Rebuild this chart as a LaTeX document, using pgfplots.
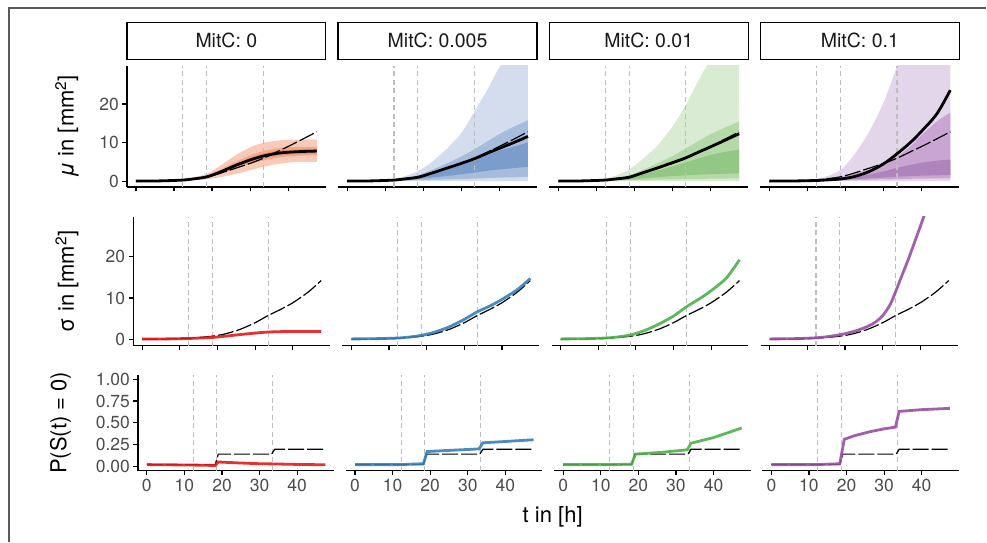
\documentclass[border=0pt]{standalone}
\usepackage{pgfplots}
\pgfplotsset{compat=1.18}
\usepackage{pgfplotstable}
\usepgfplotslibrary{fillbetween}
\usepackage{fontspec}
\setmainfont{TeX Gyre Heros}

\definecolor{redL}{HTML}{F9CAB7}
\definecolor{redM}{HTML}{F3A78D}
\definecolor{redD}{HTML}{EC8B70}
\definecolor{blueL}{HTML}{D3DDED}
\definecolor{blueM}{HTML}{A5BCDD}
\definecolor{blueD}{HTML}{7A9DCB}
\definecolor{greenL}{HTML}{DAEBD4}
\definecolor{greenM}{HTML}{B3D9A6}
\definecolor{greenD}{HTML}{92C785}
\definecolor{purpleL}{HTML}{E4D6EA}
\definecolor{purpleM}{HTML}{C9A6D2}
\definecolor{purpleD}{HTML}{AF83BB}
\definecolor{cred}{HTML}{E41A1C}
\definecolor{cblue}{HTML}{377EB8}
\definecolor{cgreen}{HTML}{4DAF4A}
\definecolor{cpurple}{HTML}{984EA3}
\definecolor{vgray}{HTML}{BEBEBE}

\newcommand\ticksize{\fontsize{17.5}{20}\selectfont}
\newcommand\stripsize{\fontsize{19.5}{22}\selectfont}
\newcommand\titlesize{\fontsize{22}{25}\selectfont}

% mu bands: t mean lo1 hi1 lo2 hi2 lo3 hi3
\pgfplotstableread{
t     mean lo1 hi1  lo2  hi2  lo3  hi3
0     0    0   0.05 0    0.03 0    0.02
6     0.05 0   0.12 0.02 0.08 0.03 0.06
12    0.25 0.1 0.45 0.18 0.33 0.21 0.29
15    0.55 0.25 0.95 0.42 0.72 0.48 0.62
18.6  1.1  0.5 1.9  0.85 1.4  0.98 1.22
22    2.3  1.0 3.9  1.8  2.9  2.0  2.6
26    4.0  1.8 6.6  3.2  4.9  3.6  4.4
30    5.5  2.8 8.8  4.5  6.7  5.0  6.0
33.4  6.5  3.7 9.9  5.4  7.8  5.9  7.1
37    7.2  4.4 10.5 6.0  8.5  6.6  7.8
40    7.5  4.8 10.7 6.4  8.8  6.9  8.1
44    7.7  5.0 10.8 6.6  8.9  7.1  8.3
47.5  7.8  5.0 10.8 6.7  8.9  7.2  8.4
}\mured
\pgfplotstableread{
t     mean lo1 hi1  lo2  hi2  lo3  hi3
0     0    0   0.05 0    0.03 0.01 0.02
6     0.05 0   0.12 0.02 0.08 0.03 0.05
12    0.25 0   0.5  0.1  0.35 0.15 0.25
15    0.55 0   1.2  0.15 0.8  0.3  0.55
18.6  1.0  0   2.6  0.25 1.5  0.5  1.0
22    2.0  0   4.8  0.35 2.8  0.9  1.9
26    3.3  0   8.2  0.45 4.5  1.3  3.0
30    4.6  0   12.5 0.55 6.4  1.8  4.2
33.4  5.8  0   18.0 0.65 8.2  2.2  5.4
37    7.3  0   24.0 0.8  10.4 2.7  6.8
40    8.5  0   29.6 0.9  12.2 3.0  7.9
44    10.1 0   36   1.0  14.2 3.4  9.0
47.5  11.6 0   42   1.1  15.8 3.7  10.0
}\mublue
\pgfplotstableread{
t     mean lo1 hi1  lo2  hi2  lo3  hi3
0     0    0   0.05 0    0.03 0.01 0.02
6     0.05 0   0.12 0.02 0.08 0.03 0.05
12    0.25 0   0.6  0.08 0.35 0.12 0.22
15    0.55 0   1.4  0.12 0.8  0.25 0.5
18.6  1.0  0   3.0  0.2  1.5  0.4  0.9
22    2.1  0   5.6  0.3  2.8  0.7  1.7
26    3.4  0   9.2  0.38 4.6  1.0  2.7
30    4.8  0   14.2 0.45 6.5  1.3  3.8
33.4  6.0  0   19.6 0.5  8.4  1.5  4.8
37    7.6  0   26.5 0.58 10.5 1.7  5.9
40    8.9  0   31.5 0.62 12.2 1.8  6.8
44    10.7 0   38   0.67 14.0 1.9  7.6
47.5  12.3 0   44   0.7  15.4 2.0  8.2
}\mugreen
\pgfplotstableread{
t     mean lo1 hi1  lo2  hi2  lo3  hi3
0     0    0   0.05 0    0.03 0.01 0.02
6     0.03 0   0.12 0.02 0.07 0.03 0.05
12    0.15 0   0.5  0.05 0.3  0.1  0.2
15    0.3  0   1.2  0.1  0.6  0.2  0.4
18.6  0.55 0   2.9  0.15 1.0  0.3  0.7
22    1.1  0   6.5  0.25 1.8  0.5  1.1
26    2.4  0   12.5 0.35 3.0  0.7  1.7
30    4.5  0   20.5 0.45 4.6  0.9  2.5
33.4  7.0  0   29.6 0.5  6.3  1.1  3.4
37    10.0 0   40   0.6  9.0  1.3  4.2
40    13.0 0   50   0.65 12.0 1.4  4.8
44    17.5 0   65   0.7  15.5 1.5  5.3
47.5  23.6 0   80   0.7  17.8 1.6  5.6
}\mupurple

\pgfplotsset{
  panel/.style={scale only axis, set layers,
    xmin=-2.375, xmax=49.875,
    axis x line*=bottom, tick pos=left,
    axis line style={-, line width=1.4pt},
    every outer x axis line/.append style={-}, every outer y axis line/.append style={-},
    xtick={0,10,20,30,40},
    tick align=outside, major tick length=4.5pt,
    every tick/.style={black, line width=1.2pt},
    tick label style={font=\ticksize, text=black!70},
    /pgf/number format/assume math mode=true},
  noy/.style={axis y line=none, ytick=\empty},
  withy/.style={axis y line*=left},
  row1/.style={panel, width=199pt, height=121pt, ymin=-1.5, ymax=29.9, ytick={0,10,20},
    xticklabels={},
    title style={at={(0.5,1)}, anchor=south, yshift=0pt, draw=black, fill=white,
      line width=1.3pt, minimum width=199pt, minimum height=37pt, inner sep=0pt,
      font=\stripsize, text=black!90}},
  row2/.style={panel, width=197pt, height=129pt, ymin=-1.45, ymax=29.5, ytick={0,10,20},
    xticklabels={}},
  row3/.style={panel, width=196.5pt, height=96pt, ymin=-0.05, ymax=1.05,
    ytick={0,0.25,0.5,0.75,1}, yticklabels={0.00,0.25,0.50,0.75,1.00},
    xticklabels={0,10,20,30,40}},
  vl/.style={color=vgray, line width=1.1pt, dash pattern=on 5pt off 3.5pt, forget plot},
  ref/.style={black, line width=1.2pt, dash pattern=on 16pt off 3pt},
  mline/.style={black, line width=2.8pt, smooth},
  cline/.style={line width=2.8pt, opacity=0.9},
}

% dashed guide lines, #1 and #2: bottom and top of the panel
\newcommand\vlines[2]{%
  \addplot[vl] coordinates {(12.3,#1) (12.3,#2)};
  \addplot[vl] coordinates {(18.6,#1) (18.6,#2)};
  \addplot[vl] coordinates {(33.5,#1) (33.5,#2)};}

\newcommand\mubands[4]{%
  \addplot[draw=none, name path=h1, smooth] table[x=t,y=hi1]{#1};
  \addplot[draw=none, name path=l1, smooth] table[x=t,y=lo1]{#1};
  \addplot[draw=none, name path=h2, smooth] table[x=t,y=hi2]{#1};
  \addplot[draw=none, name path=l2, smooth] table[x=t,y=lo2]{#1};
  \addplot[draw=none, name path=h3, smooth] table[x=t,y=hi3]{#1};
  \addplot[draw=none, name path=l3, smooth] table[x=t,y=lo3]{#1};
  \addplot[fill=#2, draw=none] fill between[of=h1 and l1];
  \addplot[fill=#3, draw=none] fill between[of=h2 and l2];
  \addplot[fill=#4, draw=none] fill between[of=h3 and l3];}

\newcommand\muref{%
  \addplot[ref, smooth] coordinates {(0,0) (6,0.05) (12,0.3) (15,0.6) (18.6,1.1) (22,2.0)
    (26,3.3) (30,4.6) (33.4,5.9) (37,7.6) (40,9.0) (44,11.0) (47.5,12.8)};}

\newcommand\sdref{%
  \addplot[ref, smooth] coordinates {(0,0.1) (6,0.15) (12,0.35) (15,0.55) (18.6,0.85) (22,1.4)
    (26,2.5) (30,4.1) (33.4,5.8) (37,7.4) (40,8.9) (44,11.4) (47.5,14.2)};}

\newcommand\pref{%
  \addplot[ref] coordinates {(0,0.02) (18.2,0.02) (19.0,0.14) (33.2,0.14) (34.0,0.195) (47.5,0.195)};}

\begin{document}
\begin{tikzpicture}
\path (0pt,0pt) rectangle (987pt,542pt);
\draw[black!65, line width=1.2pt] (9pt,0pt) -- (9pt,534pt) -- (987pt,534pt);

% ---- row 1: mu
\begin{axis}[row1, withy, at={(127pt,355pt)}, title={MitC: 0}]
\mubands{\mured}{redL}{redM}{redD}
\vlines{-1.5}{29.9}
\addplot[mline] table[x=t,y=mean]{\mured};
\muref
\end{axis}
\begin{axis}[row1, noy, at={(338.3pt,355pt)}, title={MitC: 0.005}]
\mubands{\mublue}{blueL}{blueM}{blueD}
\vlines{-1.5}{29.9}
\addplot[mline] table[x=t,y=mean]{\mublue};
\muref
\end{axis}
\begin{axis}[row1, noy, at={(549.6pt,355pt)}, title={MitC: 0.01}]
\mubands{\mugreen}{greenL}{greenM}{greenD}
\vlines{-1.5}{29.9}
\addplot[mline] table[x=t,y=mean]{\mugreen};
\muref
\end{axis}
\begin{axis}[row1, noy, at={(760.9pt,355pt)}, title={MitC: 0.1}]
\mubands{\mupurple}{purpleL}{purpleM}{purpleD}
\vlines{-1.5}{29.9}
\addplot[mline] table[x=t,y=mean]{\mupurple};
\muref
\end{axis}

% ---- row 2: sigma
\begin{axis}[row2, withy, at={(133.3pt,196pt)}]
\vlines{-1.45}{29.5}
\sdref
\addplot[cline, cred, smooth] coordinates {(0,0.2) (6,0.2) (12,0.3) (15,0.4) (18.6,0.55) (22,0.85)
  (26,1.25) (30,1.6) (33.4,1.85) (37,1.95) (40,2.0) (44,2.0) (47.5,2.0)};
\end{axis}
\begin{axis}[row2, noy, at={(342.6pt,196pt)}]
\vlines{-1.45}{29.5}
\sdref
\addplot[cline, cblue, smooth] coordinates {(0,0.2) (6,0.25) (12,0.4) (15,0.6) (18.6,1.05) (22,1.8)
  (26,3.1) (30,4.9) (33.4,6.7) (37,8.2) (40,9.7) (44,12.0) (47.5,14.7)};
\end{axis}
\begin{axis}[row2, noy, at={(551.9pt,196pt)}]
\vlines{-1.45}{29.5}
\sdref
\addplot[cline, cgreen, smooth] coordinates {(0,0.2) (6,0.25) (12,0.42) (15,0.65) (18.6,1.15) (22,2.1)
  (26,3.7) (30,5.7) (33.4,7.9) (37,9.9) (40,11.8) (44,14.8) (47.5,19.2)};
\end{axis}
\begin{axis}[row2, noy, at={(761.2pt,196pt)}]
\vlines{-1.45}{29.5}
\sdref
\addplot[cline, cpurple, smooth] coordinates {(0,0.2) (6,0.25) (12,0.45) (15,0.7) (18.6,1.2) (22,1.9)
  (24,2.5) (26,3.2) (28,4.2) (30,5.8) (32,8.5) (33.4,11.5) (35,15.2) (37,19.8) (39,24.8) (41,29.8) (43,35)};
\end{axis}

% ---- row 3: P(S(t)=0)
\begin{axis}[row3, withy, at={(138pt,71pt)}]
\vlines{-0.05}{1.05}
\pref
\addplot[cline, cred] coordinates {(0,0.02) (12,0.015) (18.2,0.01) (19.0,0.05) (24,0.04) (30,0.03)
  (33.4,0.028) (40,0.022) (47.5,0.018)};
\end{axis}
\begin{axis}[row3, noy, at={(346.3pt,71pt)}]
\vlines{-0.05}{1.05}
\pref
\addplot[cline, cblue] coordinates {(0,0.02) (12,0.02) (18.2,0.03) (19.2,0.17) (26,0.185) (33.0,0.2)
  (34.0,0.27) (40,0.285) (47.5,0.305)};
\end{axis}
\begin{axis}[row3, noy, at={(554.6pt,71pt)}]
\vlines{-0.05}{1.05}
\pref
\addplot[cline, cgreen] coordinates {(0,0.02) (12,0.02) (18.2,0.025) (19.2,0.14) (26,0.16) (33,0.19)
  (34,0.265) (40,0.33) (47.5,0.44)};
\end{axis}
\begin{axis}[row3, noy, at={(762.9pt,71pt)}]
\vlines{-0.05}{1.05}
\pref
\addplot[cline, cpurple] coordinates {(0,0.02) (12,0.02) (18.2,0.03) (19.4,0.31) (22,0.35) (26,0.395)
  (30,0.43) (33,0.45) (34,0.63) (40,0.65) (47.5,0.665)};
\end{axis}

% axis titles
\node[font=\titlesize, rotate=90] at (67pt,415.5pt) {{\itshape μ} in [mm\textsuperscript{2}]};
\node[font=\titlesize, rotate=90] at (67pt,260.5pt) {σ in [mm\textsuperscript{2}]};
\node[font=\titlesize, rotate=90] at (60.5pt,119pt) {P(S(t) = 0)};
\node[font=\titlesize] at (553pt,25pt) {t in [h]};
\end{tikzpicture}
\end{document}
